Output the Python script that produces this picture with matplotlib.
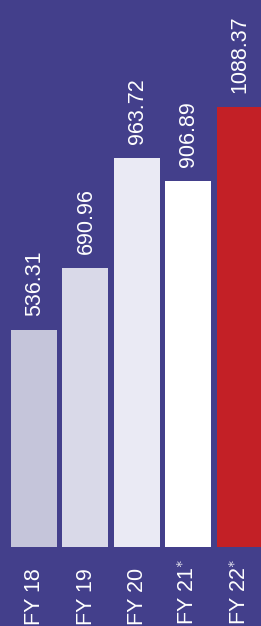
import matplotlib
matplotlib.use("Agg")
import matplotlib.pyplot as plt

plt.rcParams['font.family'] = ['Liberation Sans', 'DejaVu Sans']
plt.rcParams['mathtext.fontset'] = 'custom'
plt.rcParams['mathtext.rm'] = 'Liberation Sans'
plt.rcParams['mathtext.it'] = 'Liberation Sans'

# Data
years = ["FY 18", "FY 19", "FY 20", r"FY 21$^{\ast}$", r"FY 22$^{\ast}$"]
values = [536.31, 690.96, 963.72, 906.89, 1088.37]
colors = ["#C5C5DA", "#D9D9E8", "#EAEAF4", "#FFFFFF", "#C32026"]
bg = "#433F8B"

fig = plt.figure(figsize=(2.61, 6.26), dpi=100)
fig.patch.set_facecolor(bg)
ax = fig.add_axes([0, 0, 1, 1])
ax.set_facecolor(bg)

x = range(len(values))
ax.bar(x, values, width=0.895, color=colors)

# value labels above bars
for i, v in zip(x, values):
    ax.annotate(f"{v:.2f}", (i, v), xytext=(0.5, 10), textcoords="offset points",
                rotation=90, ha="center", va="bottom", color="white", fontsize=15.5)

# category labels below bars
for i, name in zip(x, years):
    ax.annotate(name, (i, 0), xytext=(0.5, -56), textcoords="offset points",
                rotation=90, ha="center", va="bottom", color="white", fontsize=15.5)

ax.set_xlim(-0.661, 4.416)
ax.set_ylim(-195.5, 1354)
ax.axis("off")

fig.savefig("out.png", dpi=100, facecolor=bg)
